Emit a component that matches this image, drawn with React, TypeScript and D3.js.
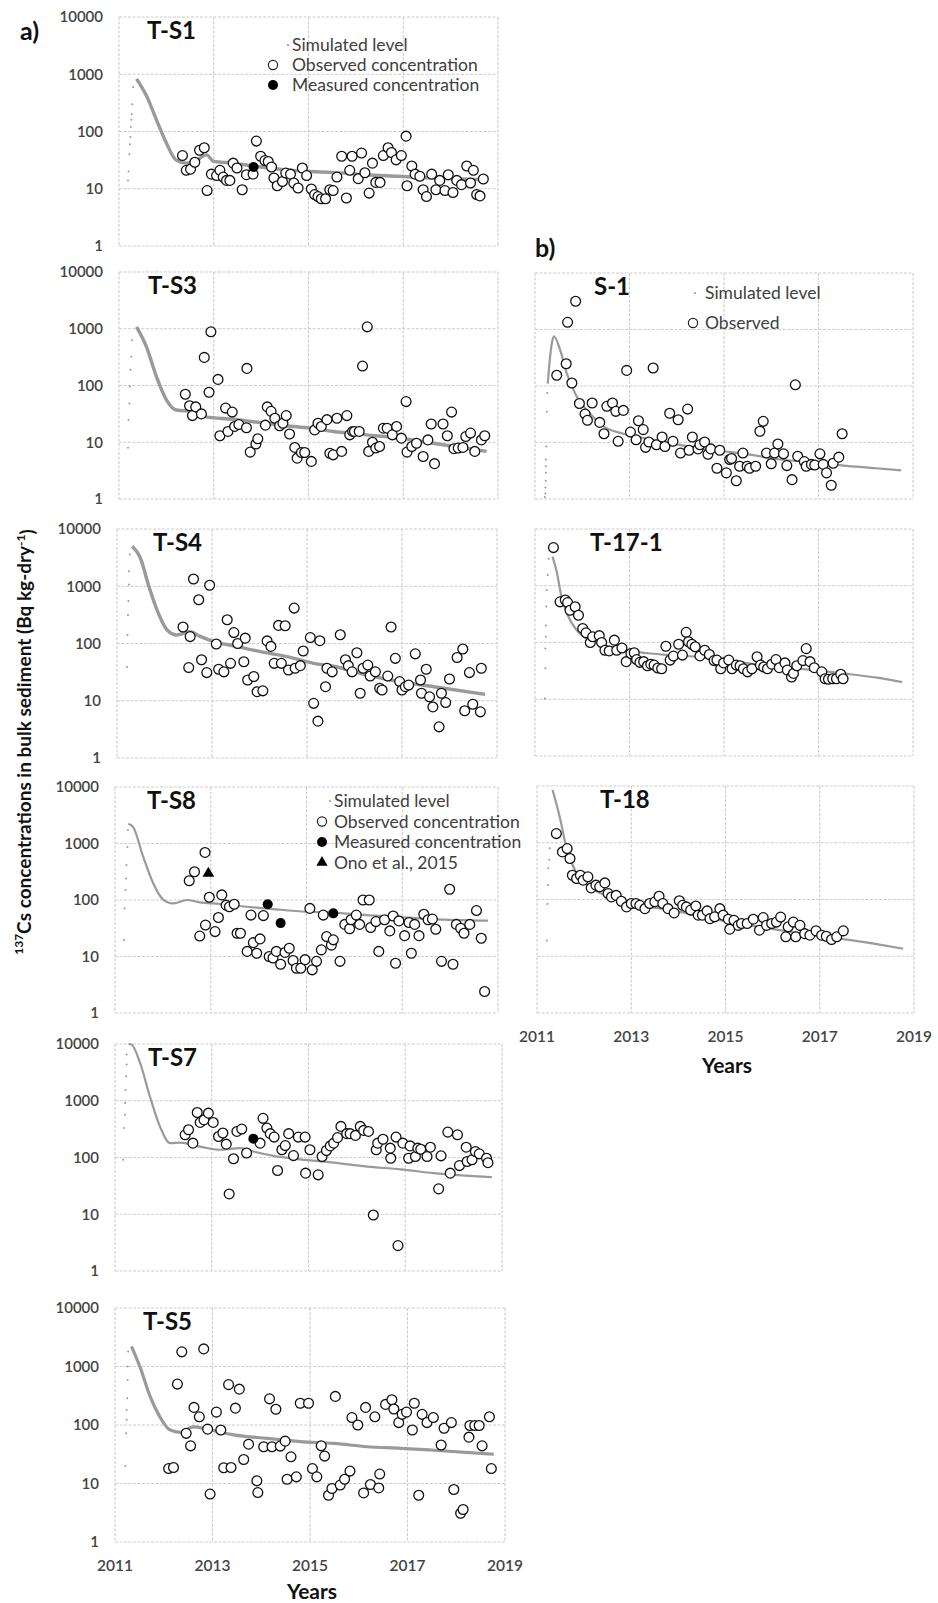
import React from 'react';
import * as d3 from 'd3';

type Pt = [number, number];

// ---------- panel a ----------
const ts1Obs: Pt[] = [[2012.34,38],[2012.42,21],[2012.51,22],[2012.6,29],[2012.7,47],[2012.8,52],[2012.86,9.3],[2012.95,18],[2013.06,17],[2013.13,21],[2013.2,16],[2013.27,14],[2013.34,14],[2013.41,28],[2013.49,23],[2013.6,9.6],[2013.69,17.6],[2013.83,18],[2013.9,68],[2013.99,37],[2014.08,31],[2014.15,30],[2014.22,24],[2014.27,15.4],[2014.34,11.3],[2014.45,13.4],[2014.52,18.8],[2014.62,18],[2014.69,12.6],[2014.78,10.3],[2014.87,23],[2014.96,17],[2015.06,9.9],[2015.13,7.9],[2015.2,7.3],[2015.27,6.7],[2015.36,6.7],[2015.45,9.6],[2015.52,9.3],[2015.6,16],[2015.7,37],[2015.8,6.9],[2015.87,21],[2015.92,37],[2016.05,15],[2016.12,42],[2016.19,19],[2016.28,8.4],[2016.35,28],[2016.42,12.9],[2016.51,12.9],[2016.58,38],[2016.68,52],[2016.75,43],[2016.85,32],[2016.96,38],[2017.06,83],[2017.08,11.3],[2017.18,25],[2017.25,18],[2017.35,16.5],[2017.42,9.6],[2017.49,7.3],[2017.6,18],[2017.69,9.6],[2017.77,14],[2017.88,9.3],[2017.95,17.6],[2018.05,8.6],[2018.13,14],[2018.23,11.8],[2018.34,25],[2018.42,12.6],[2018.48,21],[2018.55,7.9],[2018.62,7.5],[2018.69,14.8]];
const ts1Meas: Pt[] = [[2013.84,24]];
const ts1Sim: Pt[] = [[2011.37,830],[2011.58,420],[2011.79,160],[2012.0,63],[2012.2,32],[2012.42,28],[2012.6,30],[2012.85,39],[2013.0,30],[2013.4,28],[2013.83,25],[2014.46,21.6],[2015.03,20],[2015.5,19.3],[2016.2,17.6],[2016.9,16.5],[2017.6,15.4],[2018.7,14.4]];
const ts1Rise: Pt[] = [[2011.19,14],[2011.2,20],[2011.22,40],[2011.23,60],[2011.24,80],[2011.25,120],[2011.26,160],[2011.27,200],[2011.28,300],[2011.3,600]];

const ts3Obs: Pt[] = [[2012.4,70],[2012.49,44],[2012.55,29.5],[2012.62,42],[2012.74,31.6],[2012.8,313],[2012.9,76],[2012.94,883],[2013.09,128],[2013.13,13],[2013.25,40],[2013.3,15.5],[2013.39,34],[2013.44,19],[2013.53,20.5],[2013.69,18],[2013.7,200],[2013.77,6.7],[2013.89,9.3],[2013.93,11.5],[2014.09,20],[2014.13,42],[2014.21,35],[2014.29,26.5],[2014.39,19.5],[2014.46,21.6],[2014.53,29.5],[2014.6,14],[2014.71,8.1],[2014.76,5.25],[2014.85,6.6],[2014.92,6.6],[2015.06,4.6],[2015.13,16.5],[2015.2,21.6],[2015.27,19],[2015.39,25],[2015.45,6.4],[2015.52,6],[2015.6,26.5],[2015.7,6.9],[2015.81,29.5],[2015.87,13.5],[2015.93,15.5],[2015.97,15.5],[2016.07,15.5],[2016.14,220],[2016.24,1080],[2016.27,6.9],[2016.35,10],[2016.42,7.9],[2016.5,8.4],[2016.58,17.7],[2016.66,17.7],[2016.77,13.5],[2016.86,19],[2016.96,11.8],[2017.06,52],[2017.08,6.7],[2017.18,8.4],[2017.28,9.6],[2017.42,5.6],[2017.52,11],[2017.59,21],[2017.66,4.2],[2017.84,21],[2017.93,13],[2018.02,34],[2018.07,7.7],[2018.16,7.9],[2018.26,8.1],[2018.32,12.6],[2018.42,14.5],[2018.51,6.9],[2018.65,11],[2018.72,13]];
const ts3Sim: Pt[] = [[2011.37,1080],[2011.58,480],[2011.79,143],[2012.0,56],[2012.21,37],[2012.56,35],[2012.84,28],[2013.41,25.4],[2013.83,23],[2014.53,19.5],[2015.03,17.7],[2015.52,15.5],[2016.22,13.5],[2016.93,11.8],[2017.63,9.6],[2018.76,6.9]];
const ts3Rise: Pt[] = [[2011.19,8],[2011.2,25],[2011.22,48],[2011.23,96],[2011.24,190],[2011.26,320],[2011.27,630]];

const ts4Obs: Pt[] = [[2012.39,194],[2012.54,132],[2012.51,38],[2012.61,1340],[2012.72,580],[2012.78,52],[2012.89,31],[2012.95,1040],[2013.09,98],[2013.14,35.5],[2013.25,32],[2013.32,260],[2013.39,45],[2013.46,155],[2013.54,100],[2013.67,48],[2013.7,124],[2013.75,23],[2013.88,26.5],[2013.95,14.4],[2014.07,14.9],[2014.16,111],[2014.24,89],[2014.31,45],[2014.4,207],[2014.46,45],[2014.54,204],[2014.61,34.5],[2014.73,415],[2014.75,37],[2014.86,41],[2014.92,74],[2015.07,127],[2015.14,9],[2015.23,4.4],[2015.27,112],[2015.39,17.6],[2015.42,37],[2015.53,32],[2015.7,142],[2015.81,52],[2015.87,41],[2015.95,32],[2016.05,69],[2016.12,13.5],[2016.18,37],[2016.28,42],[2016.33,27],[2016.44,32],[2016.53,16.5],[2016.58,15.4],[2016.7,27],[2016.77,194],[2016.86,55],[2016.95,21.6],[2017.0,15.4],[2017.07,17.6],[2017.14,18.8],[2017.28,66],[2017.39,23],[2017.41,13.5],[2017.51,35.5],[2017.58,11.7],[2017.65,7.8],[2017.78,3.5],[2017.83,13.5],[2017.92,9.3],[2018.0,24],[2018.16,57],[2018.28,80],[2018.32,6.7],[2018.42,31],[2018.49,8.7],[2018.65,6.4],[2018.67,37]];
const ts4Sim: Pt[] = [[2011.32,5000],[2011.49,3150],[2011.67,1000],[2011.84,390],[2012.05,174],[2012.26,141],[2012.54,160],[2012.75,133],[2013.04,108],[2013.46,91],[2014.02,72],[2014.58,59],[2015.14,45],[2015.56,40],[2016.26,28],[2016.96,21.5],[2017.67,17.6],[2018.75,12.9]];
const ts4Rise: Pt[] = [[2011.21,39],[2011.22,141],[2011.23,316],[2011.24,550],[2011.25,1070],[2011.25,1830],[2011.27,3600]];

const ts8Obs: Pt[] = [[2012.55,219],[2012.66,316],[2012.88,695],[2012.97,112],[2012.77,23],[2012.89,36],[2013.09,27.6],[2013.16,49],[2013.23,123],[2013.32,81],[2013.39,76],[2013.49,84],[2013.55,25.8],[2013.62,25.8],[2013.76,12.3],[2013.84,54],[2013.89,17.6],[2013.96,11.4],[2014.03,20.5],[2014.1,53],[2014.22,10],[2014.3,9.4],[2014.37,12.3],[2014.46,7.3],[2014.55,11.8],[2014.64,14],[2014.72,8.5],[2014.79,6.2],[2014.88,6.2],[2014.97,8.8],[2015.07,71],[2015.12,5.8],[2015.21,8.2],[2015.31,13.1],[2015.35,54],[2015.42,22.5],[2015.52,15.9],[2015.56,19.7],[2015.7,8.2],[2015.8,37],[2015.9,31],[2015.93,44.7],[2016.04,54],[2016.11,37],[2016.18,100],[2016.31,100],[2016.34,32.6],[2016.45,41.5],[2016.51,12.3],[2016.63,44.7],[2016.74,28.4],[2016.81,52],[2016.86,7.6],[2016.93,42.7],[2017.05,23.4],[2017.14,40],[2017.19,11.4],[2017.26,37],[2017.35,23.4],[2017.45,56],[2017.54,44.7],[2017.63,46],[2017.7,30.4],[2017.82,8.2],[2017.99,155],[2018.06,7.3],[2018.13,37],[2018.22,31.6],[2018.29,25.8],[2018.41,37],[2018.55,65],[2018.65,21],[2018.72,2.4]];
const ts8Meas: Pt[] = [[2014.19,84],[2014.46,39],[2015.56,58]];
const ts8Ono: Pt[] = [[2012.95,295]];
const ts8Sim: Pt[] = [[2011.28,2240],[2011.38,1950],[2011.59,580],[2011.8,196],[2012.0,103],[2012.22,87],[2012.5,100],[2012.77,91],[2013.19,85],[2013.75,76],[2014.3,69],[2015.0,62],[2015.56,60],[2016.25,54],[2016.95,50],[2017.64,46],[2018.79,43]];
const ts8Rise: Pt[] = [[2011.19,19.6],[2011.2,71],[2011.22,150],[2011.23,240],[2011.24,415],[2011.26,870],[2011.27,1730]];

const ts7Obs: Pt[] = [[2012.45,251],[2012.52,308],[2012.61,179],[2012.7,620],[2012.76,415],[2012.84,460],[2012.93,605],[2013.03,415],[2013.14,234],[2013.23,270],[2013.3,172],[2013.36,22.8],[2013.45,95],[2013.52,288],[2013.62,317],[2013.72,120],[2014.0,179],[2014.06,490],[2014.14,330],[2014.21,263],[2014.29,229],[2014.36,59],[2014.45,137],[2014.52,162],[2014.59,263],[2014.69,108],[2014.79,229],[2014.93,229],[2014.94,53],[2015.03,137],[2015.2,49.5],[2015.28,104],[2015.37,133],[2015.45,160],[2015.52,179],[2015.6,224],[2015.67,353],[2015.79,263],[2015.86,263],[2015.97,245],[2016.07,353],[2016.14,300],[2016.24,288],[2016.34,9.7],[2016.4,137],[2016.43,179],[2016.54,210],[2016.69,146],[2016.7,97],[2016.81,229],[2016.95,179],[2017.07,97],[2017.1,160],[2017.21,104],[2017.26,146],[2017.32,140],[2017.45,104],[2017.52,152],[2017.69,28],[2017.74,107],[2017.88,280],[2017.93,53],[2018.08,251],[2018.12,72],[2018.26,152],[2018.28,85],[2018.38,91],[2018.45,127],[2018.53,116],[2018.68,97],[2018.71,81],[2016.85,2.8]];
const ts7Meas: Pt[] = [[2013.86,214]];
const ts7Sim: Pt[] = [[2011.28,10000],[2011.34,9800],[2011.52,4600],[2011.72,1200],[2011.93,350],[2012.14,179],[2012.34,183],[2012.76,155],[2013.17,137],[2013.59,146],[2013.86,128],[2014.28,107],[2014.83,93],[2015.52,81],[2016.21,69],[2016.9,62],[2017.59,53],[2018.79,45]];
const ts7Rise: Pt[] = [[2011.17,91],[2011.19,330],[2011.21,565],[2011.21,910],[2011.22,1550],[2011.23,2700],[2011.24,4350],[2011.24,6500]];

const ts5Obs: Pt[] = [[2012.1,18],[2012.2,18.8],[2012.28,500],[2012.37,1780],[2012.46,72],[2012.55,44],[2012.62,200],[2012.73,138],[2012.82,2000],[2012.9,85],[2012.95,6.6],[2013.08,166],[2013.17,82],[2013.23,18.6],[2013.33,490],[2013.38,18.8],[2013.47,194],[2013.55,410],[2013.64,25.7],[2013.74,47],[2013.91,11.1],[2013.93,7],[2014.05,42.5],[2014.17,280],[2014.22,42.5],[2014.3,186],[2014.39,43.6],[2014.49,53],[2014.53,11.8],[2014.61,28.6],[2014.72,13],[2014.8,235],[2014.97,235],[2015.05,18],[2015.14,13],[2015.23,44],[2015.3,29.4],[2015.38,6.3],[2015.45,8.2],[2015.52,308],[2015.62,9.4],[2015.71,11.8],[2015.82,16.3],[2015.86,134],[2015.98,100],[2016.1,6.9],[2016.14,200],[2016.24,9.6],[2016.33,138],[2016.41,8.4],[2016.43,14.5],[2016.55,225],[2016.68,270],[2016.72,188],[2016.82,110],[2016.89,152],[2016.98,166],[2017.1,82],[2017.14,235],[2017.23,6.3],[2017.3,152],[2017.4,110],[2017.53,134],[2017.69,45.5],[2017.75,88],[2017.9,110],[2017.95,7.9],[2018.09,3.1],[2018.14,3.6],[2018.26,62],[2018.28,98],[2018.38,98],[2018.47,98],[2018.53,44],[2018.68,138],[2018.72,18]];
const ts5Sim: Pt[] = [[2011.34,2200],[2011.51,1000],[2011.72,308],[2011.92,138],[2012.13,82],[2012.34,75],[2012.61,93],[2012.88,85],[2013.43,68],[2014.12,59],[2014.8,52],[2015.49,48.5],[2016.17,42.5],[2016.86,40],[2017.54,37],[2018.77,31.6]];
const ts5Rise: Pt[] = [[2011.21,20],[2011.23,72],[2011.24,123],[2011.24,180],[2011.25,287],[2011.26,590],[2011.26,1000],[2011.27,1800]];

// ---------- panel b ----------
const s1Obs: Pt[] = [[2011.46,155],[2011.66,248],[2011.69,1340],[2011.78,113],[2011.86,3160],[2011.94,49],[2012.06,32],[2012.11,24.7],[2012.21,50],[2012.37,22.7],[2012.46,14.3],[2012.52,43.7],[2012.64,50],[2012.71,35.6],[2012.76,10.5],[2012.87,37],[2012.94,189],[2013.02,15.3],[2013.14,11.2],[2013.19,24.3],[2013.29,16.9],[2013.34,8.2],[2013.41,10.2],[2013.5,208],[2013.57,9.1],[2013.69,12.5],[2013.75,8.5],[2013.85,33],[2013.92,10.5],[2014.03,25.3],[2014.08,6.5],[2014.23,39],[2014.26,7.3],[2014.33,12.5],[2014.45,7.7],[2014.49,9.1],[2014.59,10.2],[2014.66,6.2],[2014.72,7.7],[2014.91,7.3],[2014.85,3.5],[2015.05,2.9],[2015.12,5],[2015.16,5.2],[2015.26,2.1],[2015.33,3.8],[2015.4,6.5],[2015.49,3.8],[2015.54,3.5],[2015.67,3.8],[2015.76,15.8],[2015.83,23.7],[2015.9,6.5],[2016.0,4.2],[2016.07,6.5],[2016.14,9.4],[2016.26,6.3],[2016.33,3.9],[2016.44,2.2],[2016.51,105],[2016.56,5.7],[2016.7,4.6],[2016.74,3.8],[2016.85,4.1],[2016.92,4],[2017.03,6.3],[2017.1,4.1],[2017.17,2.9],[2017.27,1.75],[2017.31,4.3],[2017.43,5.5],[2017.5,14.3]];
const s1Sim: Pt[] = [[2011.27,110],[2011.32,330],[2011.37,650],[2011.4,760],[2011.53,440],[2011.67,170],[2011.88,66],[2012.16,33],[2012.44,19.4],[2012.87,14.3],[2013.29,12],[2013.85,9.8],[2014.42,8],[2014.98,7],[2015.54,6.1],[2016.11,5.1],[2016.81,4.5],[2017.52,3.9],[2018.22,3.5],[2018.75,3.2]];
const s1Rise: Pt[] = [[2011.21,1.08],[2011.22,1.25],[2011.22,1.6],[2011.23,2.1],[2011.23,2.9],[2011.23,3.8],[2011.23,5],[2011.24,8.5],[2011.25,35],[2011.26,75]];

const t171Obs: Pt[] = [[2011.39,4700],[2011.53,520],[2011.64,560],[2011.69,505],[2011.74,370],[2011.85,427],[2011.92,302],[2012.01,177],[2012.08,148],[2012.17,100],[2012.22,126],[2012.36,132],[2012.41,100],[2012.48,73],[2012.57,71],[2012.68,110],[2012.73,73],[2012.84,80],[2012.93,46],[2013.03,64],[2013.1,66],[2013.15,50],[2013.22,44.7],[2013.3,46],[2013.38,39],[2013.45,41.5],[2013.52,40],[2013.6,35.6],[2013.68,34.5],[2013.77,86],[2013.86,49],[2013.93,57.6],[2014.04,93],[2014.12,60],[2014.2,151],[2014.25,103],[2014.32,93],[2014.39,84],[2014.49,58],[2014.59,73],[2014.69,61.5],[2014.79,48],[2014.85,49],[2014.93,34.5],[2014.99,43.7],[2015.1,49],[2015.17,34.5],[2015.26,40],[2015.34,39],[2015.41,34.5],[2015.5,30.4],[2015.59,34.5],[2015.7,56],[2015.77,40],[2015.84,37],[2015.92,34.5],[2016.01,41.5],[2016.1,50],[2016.17,36],[2016.29,43.7],[2016.34,32.6],[2016.43,24.7],[2016.47,28.5],[2016.54,39],[2016.67,48],[2016.74,78],[2016.82,46],[2016.91,36],[2017.07,30.4],[2017.14,23],[2017.21,22.5],[2017.3,23],[2017.38,23],[2017.47,27.6],[2017.52,23]];
const t171Sim: Pt[] = [[2011.37,3250],[2011.46,1770],[2011.56,640],[2011.71,282],[2011.88,166],[2012.17,110],[2012.59,84],[2013.01,71],[2013.44,64],[2013.86,60],[2014.43,56],[2014.99,49],[2015.55,42.7],[2016.12,38],[2016.83,33],[2017.53,28.5],[2018.24,24],[2018.77,20]];
const t171Rise: Pt[] = [[2011.21,10.3],[2011.22,35],[2011.22,78],[2011.23,126],[2011.23,200],[2011.24,430],[2011.25,840],[2011.27,1550],[2011.29,3000]];

const t18Obs: Pt[] = [[2011.41,1450],[2011.54,690],[2011.64,790],[2011.7,527],[2011.75,268],[2011.84,234],[2011.92,268],[2011.98,219],[2012.08,251],[2012.15,160],[2012.25,179],[2012.33,167],[2012.44,196],[2012.51,127],[2012.58,111],[2012.68,118],[2012.79,93],[2012.9,74],[2013.0,85],[2013.1,85],[2013.18,79],[2013.29,69],[2013.39,85],[2013.5,91],[2013.59,114],[2013.67,85],[2013.78,69],[2013.91,58],[2014.02,95],[2014.09,79],[2014.17,74],[2014.26,65],[2014.37,77],[2014.42,53],[2014.51,53],[2014.61,63],[2014.67,46],[2014.77,49.5],[2014.88,69],[2014.95,53],[2015.06,45],[2015.09,30],[2015.18,43],[2015.27,35],[2015.34,37.7],[2015.46,37.7],[2015.59,45],[2015.72,28.8],[2015.8,48],[2015.87,35],[2015.98,37.7],[2016.08,40],[2016.17,49],[2016.28,22],[2016.33,33],[2016.44,40],[2016.49,22],[2016.58,35],[2016.68,25],[2016.79,23.5],[2016.92,28],[2017.04,23.5],[2017.14,22.5],[2017.25,19.7],[2017.36,22],[2017.5,28]];
const t18Sim: Pt[] = [[2011.33,8500],[2011.48,2900],[2011.62,850],[2011.84,288],[2012.12,167],[2012.54,111],[2012.97,83],[2013.39,74],[2013.82,65],[2014.38,53],[2014.95,42],[2015.51,35],[2016.08,29.5],[2016.79,24],[2017.5,20],[2018.21,16.3],[2018.77,13.6]];
const t18Rise: Pt[] = [[2011.21,19],[2011.22,83],[2011.23,180],[2011.24,355],[2011.26,500],[2011.27,800]];

const yearTicks = [2011, 2013, 2015, 2017, 2019];
const decadeTicks = [1, 10, 100, 1000, 10000];

const FONT = "Lato, 'Open Sans', sans-serif";
const GRID = '#cdcdcd';
const SIM = '#9a9a9a';

interface Panel {
  id: string; obs: Pt[]; sim: Pt[]; rise: Pt[]; meas?: Pt[]; ono?: Pt[];
  x0: number; x1: number; y0: number; y1: number; tx: number; simW: number;
  yLabels: boolean; xLabels: boolean;
}

const panels: Panel[] = [
  { id: 'T-S1', obs: ts1Obs, sim: ts1Sim, rise: ts1Rise, meas: ts1Meas, x0: 119, x1: 498, y0: 17, y1: 246, tx: 147, simW: 3.4, yLabels: true, xLabels: false },
  { id: 'T-S3', obs: ts3Obs, sim: ts3Sim, rise: ts3Rise, x0: 119, x1: 498, y0: 272, y1: 499, tx: 148, simW: 3.4, yLabels: true, xLabels: false },
  { id: 'T-S4', obs: ts4Obs, sim: ts4Sim, rise: ts4Rise, x0: 117, x1: 497, y0: 529, y1: 758, tx: 153, simW: 3.4, yLabels: true, xLabels: false },
  { id: 'T-S8', obs: ts8Obs, sim: ts8Sim, rise: ts8Rise, meas: ts8Meas, ono: ts8Ono, x0: 115, x1: 498, y0: 787, y1: 1013, tx: 147, simW: 2.2, yLabels: true, xLabels: false },
  { id: 'T-S7', obs: ts7Obs, sim: ts7Sim, rise: ts7Rise, meas: ts7Meas, x0: 115, x1: 502, y0: 1044, y1: 1271, tx: 148, simW: 2.2, yLabels: true, xLabels: false },
  { id: 'T-S5', obs: ts5Obs, sim: ts5Sim, rise: ts5Rise, x0: 115, x1: 505, y0: 1308, y1: 1542, tx: 143, simW: 3.2, yLabels: true, xLabels: true },
  { id: 'S-1', obs: s1Obs, sim: s1Sim, rise: s1Rise, x0: 535, x1: 913, y0: 273, y1: 499, tx: 594, simW: 2.2, yLabels: false, xLabels: false },
  { id: 'T-17-1', obs: t171Obs, sim: t171Sim, rise: t171Rise, x0: 535, x1: 913, y0: 529, y1: 756, tx: 590, simW: 2.2, yLabels: false, xLabels: false },
  { id: 'T-18', obs: t18Obs, sim: t18Sim, rise: t18Rise, x0: 537, x1: 914, y0: 786, y1: 1013, tx: 600, simW: 2.2, yLabels: false, xLabels: true },
];

function ChartPanel({ p }: { p: Panel }) {
  const x = d3.scaleLinear().domain([2011, 2019]).range([p.x0, p.x1]);
  const y = d3.scaleLog().domain([1, 10000]).range([p.y1, p.y0]);
  const line = d3.line<Pt>().x(d => x(d[0])).y(d => y(d[1])).curve(d3.curveMonotoneX);
  const tri = d3.symbol(d3.symbolTriangle, 60)();
  return (
    <g>
      {decadeTicks.map(v => (
        <line key={'h' + v} x1={p.x0} x2={p.x1} y1={y(v)} y2={y(v)} stroke={GRID} strokeWidth={1.1} strokeDasharray="3,1.5" />
      ))}
      {yearTicks.map(v => (
        <line key={'v' + v} x1={x(v)} x2={x(v)} y1={p.y0} y2={p.y1} stroke={GRID} strokeWidth={1.1} strokeDasharray="3,1.5" />
      ))}
      {p.yLabels && decadeTicks.map(v => (
        <text key={'yl' + v} x={p.x0 - 16} y={y(v)} dy="0.35em" textAnchor="end" fontSize={15} fontWeight={600} fill="#444">{v}</text>
      ))}
      {p.xLabels && yearTicks.map(v => (
        <text key={'xl' + v} x={x(v)} y={p.y1 + 24} dy="0.35em" textAnchor="middle" fontSize={15.5} fontWeight={600} fill="#444">{v}</text>
      ))}
      {p.rise.map((d, i) => (
        <circle key={'r' + i} cx={x(d[0])} cy={y(d[1])} r={1} fill={SIM} />
      ))}
      <path d={line(p.sim) || ''} fill="none" stroke={SIM} strokeWidth={p.simW} strokeLinejoin="round" />
      {p.obs.map((d, i) => (
        <circle key={'o' + i} cx={x(d[0])} cy={y(d[1])} r={4.9} fill="white" stroke="#111" strokeWidth={1.3} />
      ))}
      {(p.meas || []).map((d, i) => (
        <circle key={'m' + i} cx={x(d[0])} cy={y(d[1])} r={5} fill="#000" />
      ))}
      {(p.ono || []).map((d, i) => (
        <path key={'t' + i} d={tri || ''} transform={`translate(${x(d[0])},${y(d[1])})`} fill="#000" />
      ))}
      <text x={p.tx} y={p.y0 + 22} fontSize={24} fontWeight={700} fill="#111">{p.id}</text>
    </g>
  );
}

interface LegendProps {
  x: number; y: number; gap: number; textDx: number; dotDx: number;
  items: { label: string; kind: string }[];
}

function Legend({ x, y, gap, textDx, dotDx, items }: LegendProps) {
  const tri = d3.symbol(d3.symbolTriangle, 55)();
  return (
    <g>
      {items.map((it, i) => {
        const cy = y + i * gap;
        return (
          <g key={it.label}>
            {it.kind === 'sim' && <circle cx={x + dotDx} cy={cy} r={1.1} fill={SIM} />}
            {it.kind === 'obs' && <circle cx={x} cy={cy} r={4.6} fill="white" stroke="#222" strokeWidth={1.2} />}
            {it.kind === 'meas' && <circle cx={x} cy={cy} r={5} fill="#000" />}
            {it.kind === 'ono' && <path d={tri || ''} transform={`translate(${x},${cy})`} fill="#000" />}
            <text x={x + textDx} y={cy} dy="0.35em" fontSize={17.5} fill="#404040">{it.label}</text>
          </g>
        );
      })}
    </g>
  );
}

export default function App() {
  return (
    <svg width={938} height={1603} style={{ position: 'absolute', left: 0, top: 0, background: 'white' }} fontFamily={FONT}>
      <rect width={938} height={1603} fill="white" />
      {panels.map(p => <ChartPanel key={p.id} p={p} />)}
      <Legend x={273} y={45} gap={20} textDx={19} dotDx={15} items={[
        { label: 'Simulated level', kind: 'sim' },
        { label: 'Observed concentration', kind: 'obs' },
        { label: 'Measured concentration', kind: 'meas' },
      ]} />
      <Legend x={322} y={801} gap={20.5} textDx={12} dotDx={8} items={[
        { label: 'Simulated level', kind: 'sim' },
        { label: 'Observed concentration', kind: 'obs' },
        { label: 'Measured concentration', kind: 'meas' },
        { label: 'Ono et al., 2015', kind: 'ono' },
      ]} />
      <Legend x={693} y={293} gap={30} textDx={12} dotDx={2} items={[
        { label: 'Simulated level', kind: 'sim' },
        { label: 'Observed', kind: 'obs' },
      ]} />
      <text x={20} y={40} fontSize={25} fontWeight={700} fill="#111">a)</text>
      <text x={535} y={257} fontSize={25} fontWeight={700} fill="#111">b)</text>
      <text x={312} y={1599} textAnchor="middle" fontSize={21} fontWeight={700} fill="#111">Years</text>
      <text x={727} y={1073} textAnchor="middle" fontSize={21} fontWeight={700} fill="#111">Years</text>
      <text transform="translate(28,742) rotate(-90)" textAnchor="middle" dy="0.35em" fontSize={19} fontWeight={700} fill="#111">
        <tspan fontSize={12} dy="-0.4em">137</tspan>
        <tspan dy="0.4em">Cs concentrations in bulk sediment (Bq kg-dry</tspan>
        <tspan fontSize={12} dy="-0.45em">-1</tspan>
        <tspan dy="0.45em">)</tspan>
      </text>
    </svg>
  );
}
